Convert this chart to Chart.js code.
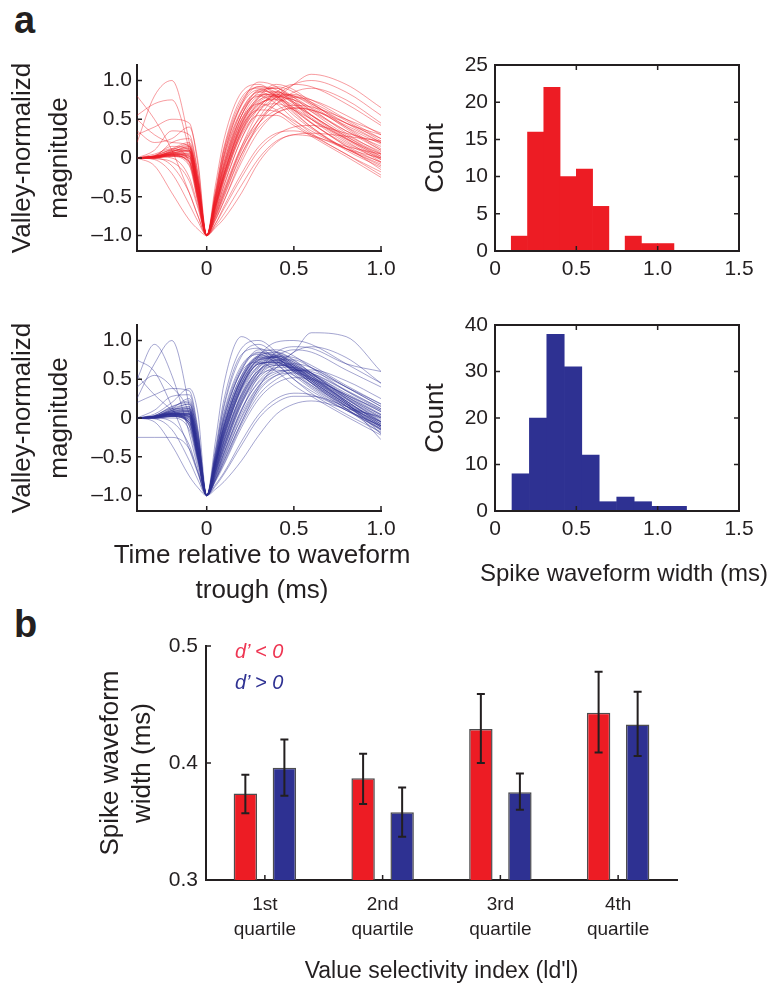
<!DOCTYPE html>
<html>
<head>
<meta charset="utf-8">
<script src="https://cdn.jsdelivr.net/npm/chart.js@4.4.0/dist/chart.umd.min.js"></script>
<style>
  html, body { margin:0; padding:0; background:#fff; }
  body { width:773px; height:989px; position:relative; overflow:hidden;
         font-family:'Liberation Sans', Arial, sans-serif; color:#231f20; }
  .box { position:absolute; }
  .plbl { position:absolute; font-weight:bold; font-size:38px; line-height:38px; }
  .leg { position:absolute; font-style:italic; font-size:20px; line-height:24px; white-space:nowrap; }
  .xt { position:absolute; transform:translateX(-50%); text-align:center; white-space:nowrap; }
</style>
</head>
<body>
<div class="plbl" style="left:14px;top:1px">a</div>
<div class="plbl" style="left:14px;top:605px">b</div>

<div class="box" style="left:0;top:45px;width:405px;height:255px"><canvas id="waveRed"></canvas></div>
<div class="box" style="left:0;top:305px;width:405px;height:305px"><canvas id="waveBlue"></canvas></div>
<div class="box" style="left:415px;top:45px;width:358px;height:255px"><canvas id="histRed"></canvas></div>
<div class="box" style="left:415px;top:305px;width:358px;height:285px"><canvas id="histBlue"></canvas></div>
<div class="box" style="left:90px;top:625px;width:599px;height:364px"><canvas id="barChart"></canvas></div>

<div class="xt" style="left:262px;top:537px;font-size:26px;line-height:35px">Time relative to waveform<br>trough (ms)</div>
<div class="xt" style="left:624px;top:559px;font-size:24px;line-height:28px">Spike waveform width (ms)</div>

<div class="leg" style="left:235px;top:639px;color:#ee3552">d’ &lt; 0</div>
<div class="leg" style="left:235px;top:670px;color:#2e3192">d’ &gt; 0</div>

<script>
/* ── colours ── */
const INK  = '#231f20';
const RED  = '#ed1c24';
const BLUE = '#2e3192';

/* ── a: waveforms (valley-normalized, sampled at WAVE_T, ms) ── */
const WAVE_T       = [-0.4,-0.3,-0.2,-0.1,-0.05,0,0.05,0.1,0.2,0.3,0.4,0.5,0.6,0.8,1.0];
const WAVE_X_TICKS = [0,0.5,1];
const WAVE_Y_TICKS = [-1,-0.5,0,0.5,1];

const RED_WAVES = [
  [0,0.01,0.04,0.02,-0.45,-1,-0.35,0.25,0.85,0.95,0.80,0.60,0.40,0.10,-0.12],
  [0,0.00,0.06,0.10,-0.35,-1,-0.45,0.10,0.70,0.92,0.88,0.70,0.50,0.20,0.00],
  [0,0.02,0.08,0.15,-0.30,-1,-0.55,-0.05,0.55,0.85,0.90,0.78,0.60,0.30,0.08],
  [0,0.01,0.03,-0.05,-0.55,-1,-0.50,0.00,0.60,0.80,0.70,0.50,0.32,0.05,-0.18],
  [0,0.03,0.12,0.20,-0.25,-1,-0.60,-0.15,0.45,0.75,0.80,0.72,0.60,0.35,0.15],
  [0,0.00,0.02,0.00,-0.50,-1,-0.65,-0.25,0.35,0.68,0.78,0.75,0.65,0.40,0.18],
  [0,0.02,0.05,0.08,-0.40,-1,-0.55,-0.10,0.50,0.70,0.62,0.45,0.30,0.05,-0.22],
  [0,0.01,0.10,0.18,-0.28,-1,-0.70,-0.35,0.25,0.60,0.78,0.82,0.75,0.50,0.25],
  [0,0.02,0.06,-0.02,-0.48,-1,-0.62,-0.20,0.40,0.62,0.60,0.48,0.35,0.12,-0.05],
  [0,0.00,0.04,0.05,-0.42,-1,-0.72,-0.40,0.15,0.50,0.70,0.78,0.75,0.55,0.30],
  [0,0.03,0.15,0.10,-0.38,-1,-0.58,-0.12,0.48,0.78,0.85,0.80,0.68,0.38,0.10],
  [0,0.01,0.02,-0.10,-0.58,-1,-0.68,-0.30,0.30,0.55,0.55,0.42,0.28,0.02,-0.25],
  [0,-0.01,-0.05,-0.30,-0.65,-1,-0.80,-0.55,-0.05,0.35,0.58,0.65,0.62,0.45,0.25],
  [0,0.00,-0.10,-0.45,-0.75,-1,-0.85,-0.65,-0.25,0.10,0.30,0.40,0.42,0.32,0.20],
  [0,-0.02,-0.20,-0.60,-0.82,-1,-0.88,-0.72,-0.35,0.00,0.22,0.30,0.32,0.28,0.22],
  [0,0.02,0.00,-0.25,-0.62,-1,-0.78,-0.50,0.05,0.45,0.70,0.85,0.90,0.75,0.45],
  [0,0.05,0.12,-0.05,-0.50,-1,-0.75,-0.45,0.10,0.52,0.80,0.95,1.00,0.85,0.55],
  [0.80,0.50,0.10,-0.45,-0.75,-1,-0.80,-0.55,0.00,0.45,0.75,0.95,1.08,0.95,0.65],
  [0.20,0.80,1.00,0.20,-0.50,-1,-0.75,-0.45,0.15,0.60,0.85,0.95,0.92,0.70,0.42],
  [0.55,0.70,0.75,0.10,-0.45,-1,-0.70,-0.35,0.25,0.65,0.82,0.80,0.70,0.45,0.20],
  [0.30,0.40,0.50,0.45,-0.10,-1,-0.60,-0.20,0.45,0.80,0.95,0.88,0.72,0.40,0.12],
  [0.50,0.30,0.20,0.15,-0.30,-1,-0.65,-0.25,0.35,0.70,0.75,0.65,0.50,0.22,-0.05],
  [0.35,0.20,0.25,0.40,-0.05,-1,-0.55,-0.10,0.55,0.88,0.90,0.75,0.55,0.25,0.02],
  [0,0.10,0.35,0.30,-0.20,-1,-0.62,-0.22,0.40,0.72,0.80,0.75,0.62,0.35,0.10],
  [0,0.02,0.20,0.25,-0.22,-1,-0.52,-0.05,0.60,0.85,0.75,0.55,0.38,0.12,-0.10],
  [0,0.01,0.05,0.02,-0.45,-1,-0.85,-0.62,-0.20,0.15,0.32,0.35,0.30,0.12,0.00],
  [0,0.00,0.03,-0.05,-0.52,-1,-0.60,-0.20,0.42,0.78,0.92,0.85,0.70,0.45,0.30],
  [0,0.02,0.08,0.12,-0.35,-1,-0.50,0.05,0.70,0.98,0.92,0.72,0.52,0.25,0.05],
  [0,-0.10,-0.45,-0.80,-0.92,-1,-0.90,-0.78,-0.45,-0.05,0.20,0.30,0.28,0.15,0.05],
  [0,0.01,0.05,0.06,-0.42,-1,-0.42,0.15,0.78,0.90,0.78,0.58,0.40,0.12,-0.08],
  [0,0.02,0.07,0.04,-0.46,-1,-0.58,-0.15,0.50,0.80,0.82,0.70,0.55,0.28,0.05],
  [0,0.01,0.09,0.12,-0.33,-1,-0.48,0.05,0.68,0.88,0.80,0.62,0.45,0.18,-0.02],
  [0,0.00,0.04,0.00,-0.50,-1,-0.66,-0.28,0.32,0.66,0.80,0.80,0.72,0.48,0.22],
  [0,0.02,0.11,0.16,-0.30,-1,-0.62,-0.22,0.38,0.70,0.76,0.68,0.55,0.28,0.02],
  [0,0.01,0.03,-0.04,-0.53,-1,-0.72,-0.42,0.12,0.45,0.62,0.68,0.66,0.50,0.32],
  [0,0.03,0.10,0.08,-0.38,-1,-0.54,-0.08,0.55,0.82,0.80,0.62,0.45,0.15,-0.15],
  [0,0.01,0.06,0.10,-0.36,-1,-0.46,0.12,0.74,0.92,0.84,0.64,0.46,0.16,-0.06],
  [0,0.02,0.04,-0.08,-0.56,-1,-0.76,-0.48,0.05,0.40,0.58,0.64,0.62,0.42,0.20],
  [0,0.00,0.08,0.14,-0.32,-1,-0.60,-0.18,0.44,0.74,0.84,0.78,0.64,0.32,0.06],
  [0,0.02,0.05,0.03,-0.44,-1,-0.52,0.02,0.62,0.86,0.86,0.72,0.56,0.26,0.00],
  [0,0.01,0.07,0.09,-0.40,-1,-0.64,-0.26,0.34,0.64,0.70,0.62,0.50,0.24,-0.02]
];

const BLUE_WAVES = [
  [0,0.01,0.05,0.05,-0.40,-1,-0.30,0.45,1.05,0.90,0.70,0.50,0.35,0.10,-0.10],
  [0,0.02,0.08,0.10,-0.35,-1,-0.40,0.25,0.90,1.00,0.85,0.65,0.45,0.15,-0.05],
  [0,0.00,0.03,-0.02,-0.48,-1,-0.50,0.05,0.65,0.85,0.80,0.65,0.48,0.18,-0.08],
  [0,0.01,0.06,0.08,-0.42,-1,-0.60,-0.15,0.45,0.75,0.80,0.70,0.55,0.25,0.00],
  [0,0.03,0.15,0.20,-0.28,-1,-0.55,-0.05,0.55,0.80,0.78,0.65,0.48,0.18,-0.12],
  [0,0.00,0.02,-0.08,-0.55,-1,-0.68,-0.28,0.30,0.62,0.72,0.68,0.58,0.30,0.05],
  [0,0.02,0.10,0.15,-0.30,-1,-0.62,-0.20,0.40,0.70,0.72,0.60,0.45,0.15,-0.15],
  [0,0.01,0.04,0.02,-0.45,-1,-0.72,-0.40,0.18,0.52,0.65,0.65,0.58,0.35,0.12],
  [0,0.02,0.12,0.25,-0.20,-1,-0.58,-0.12,0.50,0.78,0.82,0.72,0.55,0.22,-0.05],
  [0,0.00,0.00,-0.15,-0.60,-1,-0.78,-0.50,0.00,0.38,0.55,0.58,0.52,0.30,0.10],
  [0,0.01,0.05,0.05,-0.40,-1,-0.52,0.00,0.60,0.72,0.60,0.42,0.28,0.02,-0.22],
  [0,0.02,0.08,0.12,-0.32,-1,-0.66,-0.30,0.28,0.60,0.70,0.62,0.48,0.18,-0.10],
  [0,0.00,-0.05,-0.35,-0.70,-1,-0.82,-0.60,-0.12,0.25,0.45,0.52,0.50,0.30,0.08],
  [0,-0.01,-0.15,-0.55,-0.80,-1,-0.88,-0.72,-0.35,0.00,0.20,0.28,0.28,0.15,0.00],
  [0,-0.05,-0.35,-0.75,-0.90,-1,-0.92,-0.82,-0.55,-0.22,0.05,0.18,0.22,0.12,0.02],
  [0,0.01,0.04,0.00,-0.50,-1,-0.75,-0.45,0.10,0.48,0.65,0.70,0.65,0.40,0.15],
  [0,0.02,0.06,0.05,-0.40,-1,-0.48,0.08,0.68,0.82,0.70,0.50,0.32,0.05,-0.18],
  [0,0.01,0.10,0.18,-0.25,-1,-0.60,-0.18,0.42,0.72,0.75,0.62,0.45,0.12,-0.20],
  [0,0.00,0.02,-0.05,-0.52,-1,-0.70,-0.35,0.22,0.55,0.62,0.55,0.42,0.15,-0.12],
  [0,0.02,0.07,0.08,-0.38,-1,-0.56,-0.08,0.52,0.82,0.88,0.80,0.65,0.35,0.10],
  [0,0.01,0.03,-0.02,-0.47,-1,-0.80,-0.58,-0.08,0.30,0.50,0.60,0.62,0.48,0.25],
  [0.50,0.95,0.55,-0.20,-0.65,-1,-0.75,-0.45,0.10,0.55,0.75,0.75,0.65,0.40,0.15],
  [0.25,0.70,1.00,0.15,-0.50,-1,-0.68,-0.35,0.25,0.65,0.80,0.78,0.68,0.42,0.18],
  [0.75,0.60,0.15,-0.40,-0.72,-1,-0.78,-0.52,0.02,0.42,0.65,0.85,0.92,0.78,0.45],
  [0.40,0.55,0.40,0.05,-0.45,-1,-0.65,-0.28,0.32,0.68,0.80,0.72,0.58,0.28,0.00],
  [0.55,0.30,0.10,-0.10,-0.55,-1,-0.72,-0.40,0.18,0.60,0.85,0.92,0.90,0.70,0.60],
  [0.20,0.30,0.38,0.35,-0.15,-1,-0.55,-0.10,0.50,0.80,0.85,0.75,0.58,0.25,-0.05],
  [0,0.10,0.28,0.30,-0.18,-1,-0.58,-0.15,0.45,0.75,0.78,0.68,0.52,0.22,-0.08],
  [-0.25,-0.25,-0.25,-0.40,-0.70,-1,-0.80,-0.55,-0.05,0.35,0.55,0.62,0.60,0.40,0.18],
  [0,0.05,0.20,0.38,0.05,-1,-0.50,0.00,0.62,0.88,0.85,0.68,0.50,0.20,-0.05],
  [0,0.02,0.05,-0.10,-0.55,-1,-0.80,-0.55,-0.05,0.40,0.70,0.85,1.10,1.05,0.60],
  [0,0.01,0.03,-0.05,-0.50,-1,-0.65,-0.25,0.40,0.80,0.98,1.00,0.95,0.70,0.45],
  [0,0.02,0.05,0.05,-0.42,-1,-0.70,-0.38,0.22,0.60,0.80,0.88,0.85,0.62,0.40],
  [0,0.01,0.02,-0.05,-0.50,-1,-0.86,-0.70,-0.30,0.05,0.25,0.32,0.30,0.10,-0.10],
  [0,0.03,0.12,0.12,-0.35,-1,-0.45,0.15,0.80,0.95,0.80,0.58,0.40,0.12,-0.15],
  [0,0.02,0.06,0.02,-0.45,-1,-0.62,-0.22,0.38,0.70,0.72,0.62,0.50,0.20,-0.28],
  [0,0.01,0.05,0.06,-0.42,-1,-0.55,-0.05,0.55,0.78,0.76,0.62,0.46,0.16,-0.12],
  [0,0.02,0.09,0.12,-0.34,-1,-0.60,-0.18,0.42,0.72,0.78,0.68,0.52,0.22,-0.06],
  [0,0.01,0.04,0.02,-0.46,-1,-0.64,-0.24,0.36,0.66,0.74,0.66,0.52,0.24,-0.02],
  [0,0.00,0.06,0.08,-0.40,-1,-0.58,-0.12,0.48,0.76,0.80,0.70,0.54,0.22,-0.08],
  [0,0.02,0.12,0.18,-0.26,-1,-0.52,0.02,0.62,0.84,0.78,0.60,0.42,0.12,-0.16],
  [0,0.01,0.03,-0.03,-0.50,-1,-0.70,-0.36,0.20,0.55,0.68,0.66,0.56,0.28,0.04],
  [0,0.02,0.07,0.09,-0.38,-1,-0.62,-0.22,0.38,0.68,0.74,0.64,0.50,0.20,-0.10],
  [0,0.01,0.05,0.04,-0.44,-1,-0.66,-0.30,0.30,0.62,0.70,0.64,0.52,0.26,0.02],
  [0,0.03,0.14,0.22,-0.22,-1,-0.56,-0.10,0.50,0.76,0.76,0.64,0.48,0.18,-0.10],
  [0,0.00,0.02,-0.06,-0.54,-1,-0.74,-0.44,0.12,0.46,0.60,0.62,0.56,0.32,0.08],
  [0,0.01,0.06,0.06,-0.41,-1,-0.44,0.18,0.82,0.90,0.74,0.55,0.38,0.10,-0.14],
  [0,0.02,0.08,0.10,-0.36,-1,-0.57,-0.10,0.52,0.80,0.84,0.74,0.58,0.26,-0.04],
  [0,0.01,0.04,0.03,-0.45,-1,-0.68,-0.32,0.26,0.58,0.68,0.64,0.54,0.28,0.04],
  [0,0.02,0.10,0.14,-0.30,-1,-0.61,-0.20,0.40,0.70,0.72,0.60,0.46,0.16,-0.14],
  [0,0.01,0.05,0.01,-0.48,-1,-0.76,-0.48,0.06,0.42,0.58,0.62,0.58,0.36,0.12],
  [0,0.00,0.03,0.00,-0.49,-1,-0.60,-0.16,0.46,0.74,0.78,0.66,0.50,0.20,-0.20]
];

/* ── a: spike width histograms ── */
const HIST_X_TICKS     = [0,0.5,1,1.5];
const RED_BIN_CENTERS  = [0.15,0.25,0.35,0.45,0.55,0.65,0.75,0.85,0.95,1.05];
const RED_COUNTS       = [2,16,22,10,11,6,0,2,1,1];
const RED_COUNT_TICKS  = [0,5,10,15,20,25];
const BLUE_BIN_CENTERS = [0.158,0.265,0.372,0.48,0.587,0.694,0.802,0.909,1.016,1.124];
const BLUE_COUNTS      = [8,20,38,31,12,2,3,2,1,1];
const BLUE_COUNT_TICKS = [0,10,20,30,40];

/* ── b: width by |d'| quartile ── */
const QUARTILES   = [['1st','quartile'],['2nd','quartile'],['3rd','quartile'],['4th','quartile']];
const NEG_MEAN    = [0.374,0.387,0.429,0.443];
const NEG_LO      = [0.357,0.365,0.400,0.409];
const NEG_HI      = [0.390,0.408,0.459,0.478];
const POS_MEAN    = [0.396,0.358,0.375,0.433];
const POS_LO      = [0.372,0.337,0.360,0.406];
const POS_HI      = [0.420,0.379,0.391,0.461];
const BAR_Y_TICKS = [0.3,0.4,0.5];

Chart.defaults.font.family = "'Liberation Sans', Arial, sans-serif";
Chart.defaults.color = INK;
Chart.defaults.animation = false;
Chart.defaults.events = [];
Chart.defaults.plugins.legend.display = false;
Chart.defaults.plugins.tooltip.enabled = false;

const fmt1 = v => v === 0 ? '0' : (v < 0 ? '\u2013' : '') + Math.abs(v).toFixed(1);
const fixTicks = arr => s => { s.ticks = arr.map(v => ({ value:v })); };

/* inward tick marks (+ optional full box) */
function frame(o) {
  return {
    id:'frame',
    afterDraw(chart) {
      const { ctx, chartArea:a, scales:{ x, y } } = chart;
      const L = 5;
      ctx.save();
      ctx.strokeStyle = INK;
      if (o.box) { ctx.lineWidth = 2; ctx.strokeRect(a.left, a.top, a.right - a.left, a.bottom - a.top); }
      ctx.lineWidth = 1.5;
      ctx.beginPath();
      (o.xt || []).forEach(v => {
        const p = x.getPixelForValue(v);
        ctx.moveTo(p, a.bottom); ctx.lineTo(p, a.bottom - L);
        if (o.box) { ctx.moveTo(p, a.top); ctx.lineTo(p, a.top + L); }
      });
      (o.yt || []).forEach(v => {
        const p = y.getPixelForValue(v);
        ctx.moveTo(a.left, p); ctx.lineTo(a.left + L, p);
        if (o.box) { ctx.moveTo(a.right, p); ctx.lineTo(a.right - L, p); }
      });
      ctx.stroke();
      ctx.restore();
    }
  };
}

const axisBorder = { display:true, color:INK, width:2 };

/* ── waveform panel ── */
function buildWaveChart(id, waves, color, xh) {
  const ctx = document.getElementById(id).getContext('2d');
  new Chart(ctx, {
    type:'line',
    data:{
      datasets: waves.map(w => ({
        data: WAVE_T.map((t, i) => ({ x:t, y:w[i] })),
        borderColor: color, borderWidth: 0.8, pointRadius: 0,
        cubicInterpolationMode: 'monotone', fill: false
      }))
    },
    options:{
      responsive:true, maintainAspectRatio:false,
      parsing:false,
      layout:{ padding:{ top:20, right:24, left:0, bottom:0 } },
      scales:{
        x:{ type:'linear', min:-0.4, max:1.0, grid:{ display:false, drawTicks:false }, border:axisBorder,
            afterBuildTicks: fixTicks(WAVE_X_TICKS),
            afterFit: s => { s.height = xh; },
            ticks:{ font:{ size:21 }, padding:6, callback: fmt1 } },
        y:{ min:-1.2, max:1.2, grid:{ display:false, drawTicks:false }, border:axisBorder,
            afterBuildTicks: fixTicks(WAVE_Y_TICKS),
            afterFit: s => { s.width = 137; },
            ticks:{ font:{ size:21 }, padding:5, callback: fmt1 },
            title:{ display:true, text:['Valley-normalizd','magnitude'], font:{ size:26, lineHeight:1.44 }, padding:{ top:4, bottom:0 } } }
      }
    },
    plugins:[ frame({ xt:WAVE_X_TICKS, yt:WAVE_Y_TICKS }) ]
  });
}

/* ── histogram panel ── */
function buildHistChart(id, centers, counts, color, yTicks, yMax, xh) {
  const ctx = document.getElementById(id).getContext('2d');
  new Chart(ctx, {
    type:'bar',
    data:{
      datasets:[{ data: centers.map((c, i) => ({ x:c, y:counts[i] })), backgroundColor: color,
                  borderWidth:0, barPercentage:1, categoryPercentage:1 }]
    },
    options:{
      responsive:true, maintainAspectRatio:false,
      parsing:false,
      layout:{ padding:{ top:20, right:34, left:0, bottom:0 } },
      scales:{
        x:{ type:'linear', min:0, max:1.5, offset:false, grid:{ display:false, drawTicks:false, offset:false }, border:axisBorder,
            afterBuildTicks: fixTicks(HIST_X_TICKS),
            afterFit: s => { s.height = xh; },
            ticks:{ font:{ size:21 }, padding:6, callback: fmt1 } },
        y:{ min:0, max:yMax, grid:{ display:false, drawTicks:false }, border:axisBorder,
            afterBuildTicks: fixTicks(yTicks),
            afterFit: s => { s.width = 80; },
            ticks:{ font:{ size:21 }, padding:7 },
            title:{ display:true, text:'Count', font:{ size:26, lineHeight:1.2 }, padding:{ top:5.4, bottom:0 } } }
      }
    },
    plugins:[ frame({ box:true, xt:HIST_X_TICKS, yt:yTicks }) ]
  });
}

/* ── error bars for panel b ── */
const ERR = [[NEG_LO, NEG_HI], [POS_LO, POS_HI]];
const errBars = {
  id:'errBars',
  afterDatasetsDraw(chart) {
    const { ctx, scales:{ y } } = chart;
    ctx.save();
    ctx.strokeStyle = INK;
    ctx.lineWidth = 2;
    ERR.forEach(([lo, hi], i) => {
      chart.getDatasetMeta(i).data.forEach((bar, j) => {
        const t = y.getPixelForValue(hi[j]), b = y.getPixelForValue(lo[j]);
        ctx.beginPath();
        ctx.moveTo(bar.x, t); ctx.lineTo(bar.x, b);
        ctx.moveTo(bar.x - 4, t); ctx.lineTo(bar.x + 4, t);
        ctx.moveTo(bar.x - 4, b); ctx.lineTo(bar.x + 4, b);
        ctx.stroke();
      });
    });
    ctx.restore();
  }
};

function buildBarChart() {
  const ctx = document.getElementById('barChart').getContext('2d');
  const common = { borderColor:'#4d4d4f', borderWidth:1.5, categoryPercentage:0.663, barPercentage:0.6 };
  new Chart(ctx, {
    type:'bar',
    data:{
      labels: QUARTILES,
      datasets:[
        { label:"d' < 0", data:NEG_MEAN, backgroundColor:RED,  ...common },
        { label:"d' > 0", data:POS_MEAN, backgroundColor:BLUE, ...common }
      ]
    },
    options:{
      responsive:true, maintainAspectRatio:false,
      layout:{ padding:{ top:21, right:12, left:0, bottom:0 } },
      scales:{
        x:{ grid:{ display:false, drawTicks:false }, border:axisBorder,
            afterFit: s => { s.height = 109; },
            ticks:{ font:{ size:19, lineHeight:1.3 }, padding:12.6 },
            title:{ display:true, text:"Value selectivity index (ld'l)", font:{ size:23, lineHeight:1.2 }, padding:{ top:0, bottom:3.2 } } },
        y:{ min:0.3, max:0.5, grid:{ display:false, drawTicks:false }, border:axisBorder,
            afterBuildTicks: fixTicks(BAR_Y_TICKS),
            afterFit: s => { s.width = 116; },
            ticks:{ font:{ size:21 }, padding:8, callback: v => v.toFixed(1) },
            title:{ display:true, text:['Spike waveform','width (ms)'], font:{ size:26, lineHeight:1.23 }, padding:{ top:5, bottom:0 } } }
      }
    },
    plugins:[ errBars, frame({ xt:[0,1,2,3], yt:[0.4,0.5] }) ]
  });
}

window.addEventListener('DOMContentLoaded', () => {
  buildWaveChart('waveRed', RED_WAVES, 'rgba(237,28,36,0.55)', 49);
  buildWaveChart('waveBlue', BLUE_WAVES, 'rgba(46,49,146,0.55)', 99);
  buildHistChart('histRed', RED_BIN_CENTERS, RED_COUNTS, RED, RED_COUNT_TICKS, 25, 49);
  buildHistChart('histBlue', BLUE_BIN_CENTERS, BLUE_COUNTS, BLUE, BLUE_COUNT_TICKS, 40, 79);
  buildBarChart();
});
</script>
</body>
</html>
